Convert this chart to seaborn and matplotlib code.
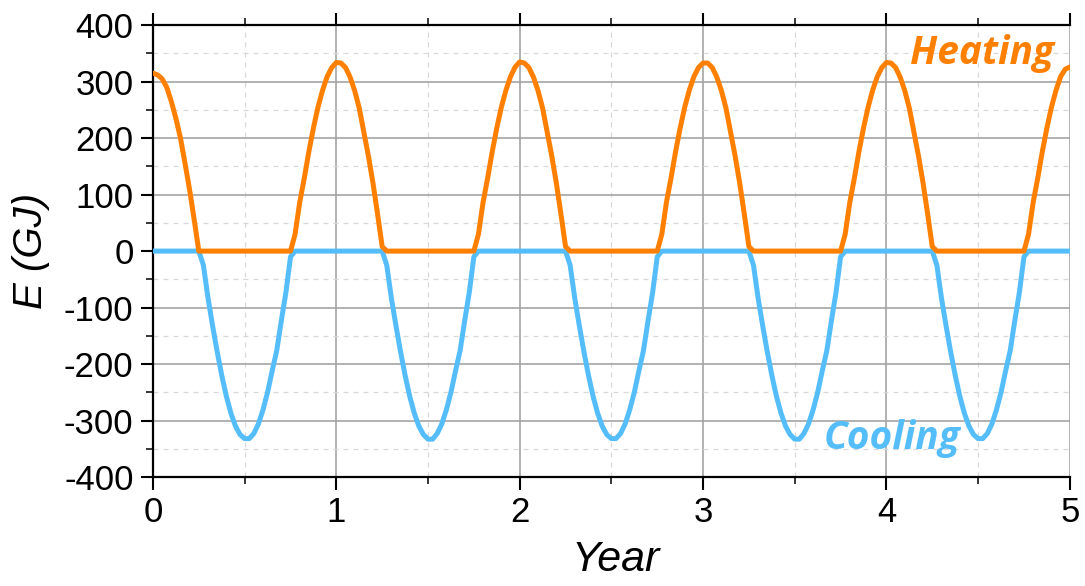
import numpy as np
import pandas as pd
import matplotlib
matplotlib.use("Agg")
import matplotlib.pyplot as plt
import seaborn as sns
from matplotlib.ticker import MultipleLocator

# sampling grid (years), step 0.025
year = np.round(np.arange(0, 5.0001, 0.025), 3)

# Heating energy (GJ), one row per year (40 samples each) + final point
heating = (
    [315, 312, 305, 290, 265, 235, 200, 155, 108, 55, 0,
     0, 0, 0, 0, 0, 0, 0, 0, 0, 0, 0, 0, 0, 0, 0, 0, 0, 0, 0, 0,
     30, 86, 129, 176, 218, 255, 285, 309, 325]
    + [334, 333, 325, 308, 284, 253, 210, 168, 120, 65, 8,
       0, 0, 0, 0, 0, 0, 0, 0, 0, 0, 0, 0, 0, 0, 0, 0, 0, 0, 0, 0,
       30, 86, 129, 176, 218, 255, 285, 309, 326]
    + [335, 333, 325, 308, 284, 253, 210, 168, 120, 65, 8,
       0, 0, 0, 0, 0, 0, 0, 0, 0, 0, 0, 0, 0, 0, 0, 0, 0, 0, 0, 0,
       30, 86, 129, 176, 218, 255, 285, 309, 325]
    + [333, 333, 325, 308, 284, 253, 210, 168, 120, 65, 8,
       0, 0, 0, 0, 0, 0, 0, 0, 0, 0, 0, 0, 0, 0, 0, 0, 0, 0, 0, 0,
       30, 86, 129, 176, 218, 255, 285, 309, 325]
    + [334, 333, 325, 308, 284, 253, 210, 168, 120, 65, 8,
       0, 0, 0, 0, 0, 0, 0, 0, 0, 0, 0, 0, 0, 0, 0, 0, 0, 0, 0, 0,
       30, 86, 129, 176, 218, 255, 285, 309, 322]
    + [326]
)

# Cooling energy (GJ)
cooling = (
    [0, 0, 0, 0, 0, 0, 0, 0, 0, 0, 0,
     -25, -83, -132, -178, -220, -257, -287, -310, -325, -332,
     -332, -323, -306, -281, -250, -212, -176, -123, -73, -10,
     0, 0, 0, 0, 0, 0, 0, 0, 0]
    + [0, 0, 0, 0, 0, 0, 0, 0, 0, 0, 0,
       -25, -83, -132, -178, -220, -257, -287, -310, -325, -333,
       -333, -323, -306, -281, -250, -212, -176, -123, -73, -10,
       0, 0, 0, 0, 0, 0, 0, 0, 0]
    + [0, 0, 0, 0, 0, 0, 0, 0, 0, 0, 0,
       -25, -83, -132, -178, -220, -257, -287, -310, -325, -332,
       -332, -323, -306, -281, -250, -212, -176, -123, -73, -10,
       0, 0, 0, 0, 0, 0, 0, 0, 0]
    + [0, 0, 0, 0, 0, 0, 0, 0, 0, 0, 0,
       -25, -83, -132, -178, -220, -257, -287, -310, -325, -333,
       -333, -323, -306, -281, -250, -212, -176, -123, -73, -10,
       0, 0, 0, 0, 0, 0, 0, 0, 0]
    + [0, 0, 0, 0, 0, 0, 0, 0, 0, 0, 0,
       -25, -83, -132, -178, -220, -257, -287, -310, -325, -332,
       -332, -323, -306, -281, -250, -212, -176, -123, -73, -10,
       0, 0, 0, 0, 0, 0, 0, 0, 0]
    + [0]
)

x_ticks = [0, 1, 2, 3, 4, 5]
y_ticks = [-400, -300, -200, -100, 0, 100, 200, 300, 400]

HEAT_C = "#FF8000"
COOL_C = "#55BEFA"

df = pd.DataFrame({"Year": year, "Heating": heating, "Cooling": cooling})

sns.set_style("white")
plt.rcParams["font.family"] = ["Liberation Sans", "DejaVu Sans"]
plt.rcParams["axes.unicode_minus"] = False

fig = plt.figure(figsize=(10.85, 5.86), dpi=100)
ax = fig.add_axes([0.141, 0.186, 0.845, 0.771])

sns.lineplot(data=df, x="Year", y="Cooling", ax=ax, color=COOL_C, linewidth=3.6,
             estimator=None, sort=True, zorder=3)
sns.lineplot(data=df, x="Year", y="Heating", ax=ax, color=HEAT_C, linewidth=3.6,
             estimator=None, sort=True, zorder=4)

ax.set_xlim(0, 5)
ax.set_ylim(-400, 400)
ax.set_xticks(x_ticks)
ax.set_yticks(y_ticks)
ax.xaxis.set_minor_locator(MultipleLocator(0.5))
ax.yaxis.set_minor_locator(MultipleLocator(50))

ax.set_axisbelow(True)
ax.grid(which="major", color="#a4a4a4", linewidth=1.2, linestyle="-")
ax.grid(which="minor", color="#d8d8d8", linewidth=0.9, linestyle=(0, (4, 4)))

for side in ["left", "bottom", "top"]:
    ax.spines[side].set_visible(True)
    ax.spines[side].set_color("black")
    ax.spines[side].set_linewidth(1.6)
ax.spines["right"].set_visible(False)

ax.tick_params(axis="both", which="major", direction="out", length=9, width=1.5,
               labelsize=25, colors="black", pad=5)
ax.tick_params(axis="both", which="minor", direction="out", length=5, width=1.3)
ax.tick_params(axis="x", which="both", top=True, bottom=True)
ax.tick_params(axis="y", which="both", left=True, right=False)

ax.set_xlabel("Year", fontsize=31, fontstyle="italic", color="black")
ax.set_ylabel("E (GJ)", fontsize=29, fontstyle="italic", color="black")
ax.xaxis.set_label_coords(0.505, -0.14)
ax.yaxis.set_label_coords(-0.112, 0.5)

ax.text(4.52, 350, "Heating", color=HEAT_C, fontsize=28, fontweight="bold",
        fontstyle="italic", ha="center", va="center",
        family=["Open Sans", "DejaVu Sans"], zorder=5)
ax.text(4.03, -332, "Cooling", color=COOL_C, fontsize=28, fontweight="bold",
        fontstyle="italic", ha="center", va="center",
        family=["Open Sans", "DejaVu Sans"], zorder=5)

fig.savefig("out.png", dpi=100)
